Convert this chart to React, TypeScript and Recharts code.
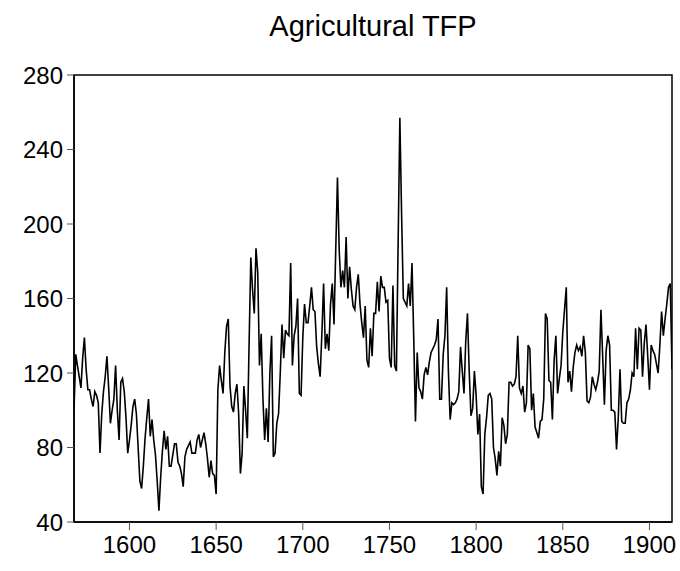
import React from "react";
import { LineChart, Line, XAxis, YAxis, ReferenceArea } from "recharts";

const FIRST_YEAR = 1568;
const LAST_YEAR = 1913;

const tfp1568to1599 = [
  100, 130, 124, 118, 112, 128, 139, 122, 111, 111, 106, 102, 110, 108, 104, 77,
  98, 110, 118, 129, 112, 93, 100, 106, 124, 100, 84, 115, 117, 110, 96, 77,
];
const tfp1600to1649 = [
  84, 92, 102, 106, 98, 80, 62, 58, 70, 85, 96, 106, 86, 95, 84, 76, 62, 46, 64, 78,
  89, 79, 86, 70, 70, 76, 82, 82, 72, 70, 66, 59, 75, 79, 81, 83, 77, 77, 77, 84,
  87, 80, 84, 88, 82, 74, 64, 73, 66, 65,
];
const tfp1650to1699 = [
  55, 111, 124, 116, 109, 131, 145, 149, 113, 102, 99, 109, 114, 98, 66, 77, 113, 100, 85, 135,
  182, 165, 152, 187, 174, 124, 141, 106, 84, 101, 83, 120, 140, 75, 77, 93, 98, 120, 146, 128,
  143, 141, 140, 179, 124, 140, 145, 160, 109, 108,
];
const tfp1700to1749 = [
  139, 157, 147, 147, 156, 166, 154, 153, 134, 125, 118, 141, 168, 133, 141, 132, 157, 168, 146, 186,
  225, 186, 166, 175, 166, 193, 160, 177, 165, 156, 154, 166, 173, 157, 147, 139, 156, 127, 123, 144,
  129, 152, 152, 169, 153, 172, 166, 166, 158, 159,
];
const tfp1750to1799 = [
  128, 123, 167, 124, 121, 190, 257, 205, 160, 158, 156, 168, 156, 179, 139, 94, 131, 112, 110, 106,
  119, 123, 119, 126, 131, 133, 135, 138, 149, 106, 106, 130, 140, 166, 121, 95, 104, 103, 104, 106,
  110, 134, 121, 109, 137, 152, 121, 97, 101, 121,
];
const tfp1800to1849 = [
  108, 87, 98, 59, 55, 87, 96, 108, 109, 106, 80, 74, 65, 78, 70, 96, 92, 82, 87, 115,
  115, 113, 114, 118, 140, 112, 109, 113, 99, 104, 135, 133, 100, 109, 91, 88, 85, 94, 95, 106,
  152, 149, 116, 115, 95, 127, 140, 109, 117, 124,
];
const tfp1850to1899 = [
  142, 154, 166, 115, 121, 110, 123, 131, 135, 132, 134, 129, 140, 131, 105, 104, 107, 118, 114, 111,
  115, 121, 154, 129, 103, 132, 140, 135, 100, 100, 99, 79, 96, 122, 94, 93, 93, 104, 106, 111,
  120, 118, 144, 122, 144, 143, 118, 136, 146, 129,
];
const tfp1900to1913 = [111, 135, 132, 130, 125, 120, 135, 153, 140, 149, 157, 166, 168, 122];

const tfpValues = [
  ...tfp1568to1599,
  ...tfp1600to1649,
  ...tfp1650to1699,
  ...tfp1700to1749,
  ...tfp1750to1799,
  ...tfp1800to1849,
  ...tfp1850to1899,
  ...tfp1900to1913,
];

const xTicks = [1600, 1650, 1700, 1750, 1800, 1850, 1900];
const yTicks = [40, 80, 120, 160, 200, 240, 280];
const TITLE = "Agricultural TFP";

const data = tfpValues.map((v, i) => ({ year: FIRST_YEAR + i, tfp: v }));

const FONT = 'Arial, "Liberation Sans", sans-serif';

export default function App() {
  return (
    <div
      style={{
        position: "absolute",
        left: 0,
        top: 0,
        width: 680,
        height: 571,
        background: "#fff",
        fontFamily: FONT,
      }}
    >
      <div
        style={{
          position: "absolute",
          left: 74,
          width: 598,
          top: 8,
          textAlign: "center",
          fontSize: 29,
          lineHeight: "36px",
          color: "#000",
        }}
      >
        {TITLE}
      </div>
      <LineChart
        width={680}
        height={571}
        data={data}
        margin={{ top: 75, right: 8, bottom: 9, left: 0 }}
      >
        <XAxis
          dataKey="year"
          type="number"
          domain={[FIRST_YEAR, LAST_YEAR]}
          ticks={xTicks}
          allowDataOverflow
          height={40}
          tickSize={8}
          tickMargin={6}
          axisLine={{ stroke: "#000", strokeWidth: 1.5 }}
          tickLine={{ stroke: "#555" }}
          tick={{ fill: "#000", fontSize: 24, fontFamily: FONT }}
        />
        <YAxis
          type="number"
          domain={[40, 280]}
          ticks={yTicks}
          allowDataOverflow
          width={74}
          tickSize={7}
          tickMargin={4}
          axisLine={{ stroke: "#000", strokeWidth: 1.5 }}
          tickLine={{ stroke: "#555" }}
          tick={{ fill: "#000", fontSize: 24, fontFamily: FONT }}
        />
        <ReferenceArea
          x1={FIRST_YEAR}
          x2={LAST_YEAR}
          y1={40}
          y2={280}
          fill="none"
          fillOpacity={0}
          stroke="#000"
          strokeWidth={1.5}
          strokeOpacity={1}
        />
        <Line
          type="linear"
          dataKey="tfp"
          stroke="#000"
          strokeWidth={1.6}
          dot={false}
          isAnimationActive={false}
        />
      </LineChart>
    </div>
  );
}
